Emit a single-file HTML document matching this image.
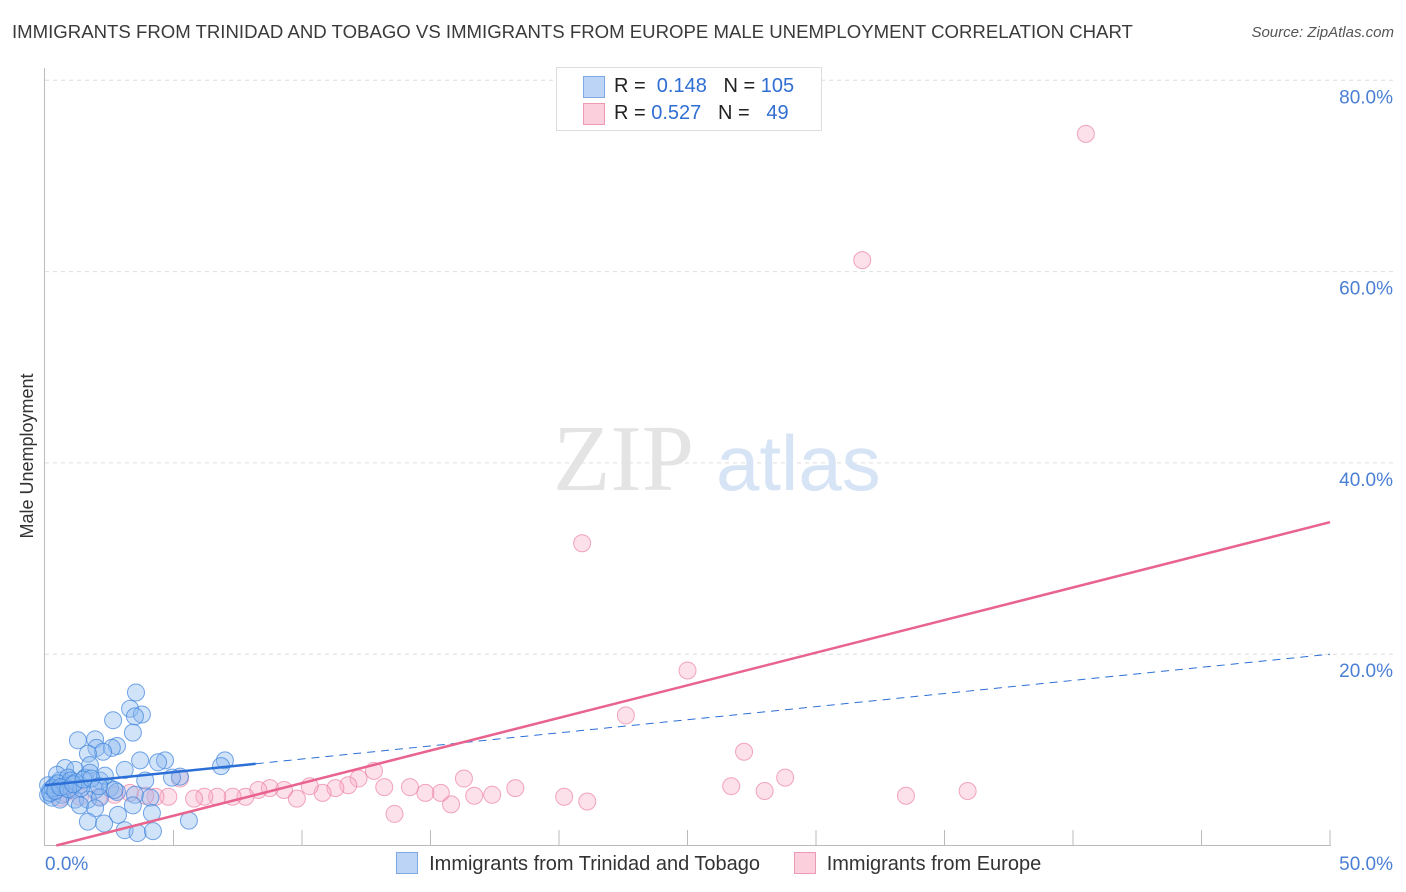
<!DOCTYPE html>
<html><head><meta charset="utf-8"><style>
body{margin:0;background:#fff;font-family:"Liberation Sans",sans-serif;}
#wrap{position:relative;width:1406px;height:892px;overflow:hidden;}
.title{position:absolute;left:12px;top:21px;font-size:18.6px;color:#3a3a3a;white-space:nowrap;}
.src{position:absolute;right:12px;top:24px;font-size:15px;color:#555;font-style:italic;}
</style></head><body><div id="wrap">
<div class="title">IMMIGRANTS FROM TRINIDAD AND TOBAGO VS IMMIGRANTS FROM EUROPE MALE UNEMPLOYMENT CORRELATION CHART</div>
<div class="src">Source: ZipAtlas.com</div>
<svg id="svg" width="1406" height="892" style="position:absolute;left:0;top:0"></svg>
</div>
<script>
const yTicks=[20,40,60,80];
const xTickLabels=["0.0%","50.0%"];
const blueX=[3.54,3.31,3.77,3.5,2.65,3.42,1.28,1.95,2.8,2.0,2.6,2.26,1.67,3.7,4.67,4.4,7.0,6.85,1.75,3.1,0.78,1.17,5.25,4.94,3.9,2.14,1.56,0.58,0.39,0.2,0.12,0.27,0.97,1.36,1.95,2.53,2.8,3.5,4.1,0.66,1.17,1.67,2.14,1.36,1.95,3.42,2.84,4.16,1.67,2.3,5.6,3.1,3.6,4.2,0.47,0.9,1.75,2.33,2.7,0.58,0.12,0.3,0.5,0.8,1.0,1.2,1.4,0.2,0.4,0.6,0.9,1.1,1.5,1.8,2.1];
const blueY=[16.0,14.3,13.7,13.5,13.1,11.8,11.0,11.1,10.4,10.2,10.2,9.8,9.6,8.9,8.9,8.7,8.9,8.3,8.4,7.9,8.1,7.9,7.2,7.1,6.8,6.8,7.1,6.8,6.3,5.8,5.3,5.0,5.8,6.3,5.8,6.0,5.6,5.3,5.0,5.3,4.8,4.8,5.0,4.2,3.9,4.2,3.2,3.4,2.5,2.3,2.6,1.6,1.3,1.5,7.4,7.1,7.6,7.3,5.8,4.8,6.3,6.0,6.5,6.2,6.8,6.6,6.0,5.5,5.7,6.1,5.9,6.4,6.9,7.0,6.2];
const pinkX=[40.5,31.8,20.9,25.0,22.6,27.2,28.8,26.7,28.0,33.5,35.9,20.2,21.1,18.3,16.3,16.7,17.4,15.8,15.4,14.8,14.2,13.2,13.6,12.8,12.2,11.8,11.3,10.8,10.3,9.8,9.3,8.75,8.3,7.8,7.3,6.7,6.2,5.8,5.25,4.8,4.3,3.9,3.3,2.7,2.1,1.36,0.78,0.4,0.6];
const pinkY=[74.4,61.2,31.6,18.3,13.6,9.8,7.1,6.2,5.7,5.2,5.7,5.1,4.6,6.0,7.0,5.2,5.3,4.3,5.5,5.5,6.1,6.1,3.3,7.8,7.0,6.3,6.0,5.5,6.2,4.9,5.8,6.0,5.8,5.1,5.1,5.1,5.1,4.9,7.0,5.1,5.1,5.2,5.5,5.3,5.1,5.1,5.5,5.8,5.0];
const blueLine=[6.3,20.0];
const pinkLine=[-0.3,33.8];
const NS="http://www.w3.org/2000/svg";
const svg=document.getElementById('svg');
const X=v=>45+v*25.7, Y=v=>845.5-v*9.565;
function mk(t,a){const e=document.createElementNS(NS,t);for(const k in a)e.setAttribute(k,a[k]);svg.appendChild(e);return e;}
for(const t of yTicks){
 const l=mk('line',{x1:45,x2:1395,y1:Y(t),y2:Y(t),stroke:'#ddd','stroke-dasharray':'4,4'});
 
 
 const tx=mk('text',{x:1393,y:Y(t)+23,'text-anchor':'end','font-size':19,fill:'#4a7fd4','font-family':'Liberation Sans'});
 tx.textContent=t.toFixed(1)+'%';
 
 
}
const ax=mk('line',{x1:44.5,x2:44.5,y1:68,y2:846,stroke:'#bbb'});


const bx=mk('line',{x1:44,x2:1331,y1:845.5,y2:845.5,stroke:'#bbb'});


for(let i=1;i<=10;i++){const t=mk('line',{x1:X(i*5),x2:X(i*5),y1:830,y2:846,stroke:'#bbb'});
 
 }
const xl0=mk('text',{x:45,y:870,'font-size':19,fill:'#4a7fd4'});xl0.textContent=xTickLabels[0];


const xl1=mk('text',{x:1393,y:870,'font-size':19,fill:'#4a7fd4','text-anchor':'end'});xl1.textContent=xTickLabels[1];


const yt=mk('text',{x:0,y:0,'font-size':18,fill:'#333',transform:'translate(33,456) rotate(-90)','text-anchor':'middle'});yt.textContent='Male Unemployment';


const wm=mk('text',{x:553,y:490,'font-size':94,fill:'#e4e4e4','font-family':'Liberation Serif'});wm.textContent='ZIP';


const wm2=mk('text',{x:716,y:490,'font-size':78,fill:'#d6e4f5'});wm2.textContent='atlas';


for(let i=0;i<pinkX.length;i++){const c=mk('circle',{cx:X(pinkX[i]),cy:Y(pinkY[i]),r:8.5,fill:'rgba(248,170,195,0.35)',stroke:'rgba(235,130,165,0.7)'});
 
 }
for(let i=0;i<blueX.length;i++){const c=mk('circle',{cx:X(blueX[i]),cy:Y(blueY[i]),r:8.5,fill:'rgba(140,185,240,0.4)',stroke:'rgba(60,130,220,0.7)'});
 
 }
const bl=mk('line',{x1:X(0),y1:Y(blueLine[0]),x2:X(8.2),y2:Y(blueLine[0]+(blueLine[1]-blueLine[0])*8.2/50),stroke:'#2c6fd6','stroke-width':2.5});


const bd=mk('line',{x1:X(8.2),y1:Y(blueLine[0]+(blueLine[1]-blueLine[0])*8.2/50),x2:X(50),y2:Y(blueLine[1]),stroke:'#2c6fd6','stroke-width':1,'stroke-dasharray':'8,6'});


const x0=-pinkLine[0]*50/(pinkLine[1]-pinkLine[0]);
const pl=mk('line',{x1:X(x0),y1:Y(0),x2:X(50),y2:Y(pinkLine[1]),stroke:'#e8638e','stroke-width':2.5});


</script>
<div style="position:absolute;left:556px;top:67px;width:264px;height:62px;border:1px solid #ddd;background:#fff;font-size:20px;color:#222;">
 <div style="position:absolute;left:26px;top:8px;width:20px;height:20px;background:#bcd5f7;border:1px solid #7fa9e6"></div>
 <div style="position:absolute;left:57px;top:7px">R = <span style="color:#2f6fd3">&nbsp;0.148</span>&nbsp;&nbsp;&nbsp;N = <span style="color:#2f6fd3">105</span></div>
 <div style="position:absolute;left:26px;top:35px;width:20px;height:20px;background:#fbd0dc;border:1px solid #ec9ab5"></div>
 <div style="position:absolute;left:57px;top:34px">R = <span style="color:#2f6fd3">0.527</span>&nbsp;&nbsp;&nbsp;N = <span style="color:#2f6fd3">&nbsp;&nbsp;49</span></div>
</div>
<div style="position:absolute;left:396px;top:852px;font-size:20px;color:#333;white-space:nowrap">
 <span style="display:inline-block;width:20px;height:20px;background:#bcd5f7;border:1px solid #7fa9e6;vertical-align:-4px"></span>&nbsp; Immigrants from Trinidad and Tobago
 <span style="display:inline-block;width:20px;height:20px;background:#fbd0dc;border:1px solid #ec9ab5;vertical-align:-4px;margin-left:28px"></span>&nbsp; Immigrants from Europe
</div>
</body></html>
